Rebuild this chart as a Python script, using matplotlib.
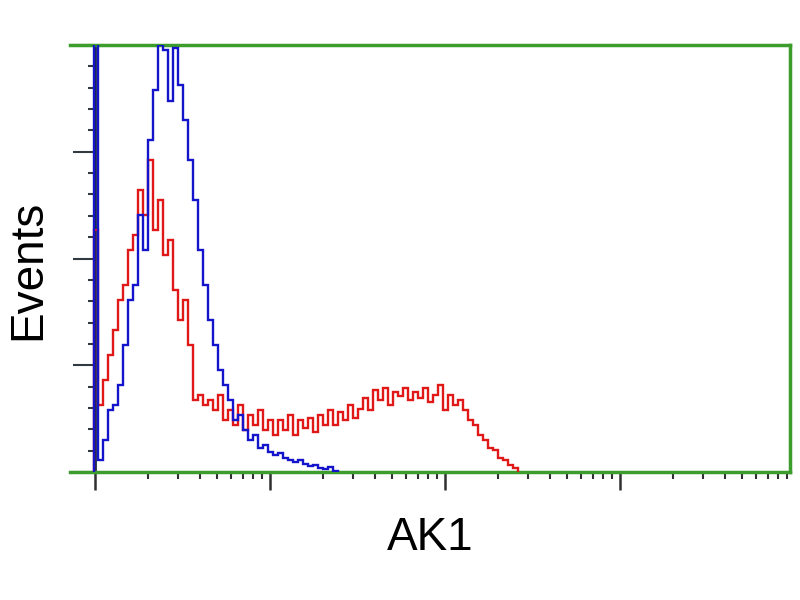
import numpy as np
import matplotlib
matplotlib.use("Agg")
import matplotlib.pyplot as plt
from matplotlib.ticker import MultipleLocator, FixedLocator, NullFormatter

# histogram counts (percent of max), bins of equal log width
blue_counts = [110, 2.8, 7.5, 14.5, 15.7, 20.4, 29.7, 40.3, 43.8, 60.2, 52, 77.8, 89.5,
               100, 98.8, 87, 99.3, 90.6, 82.4, 73, 63.7, 52, 43.8, 35.6, 29.7, 23.9,
               20.4, 16.9, 12.2, 13.3, 9.8, 7.5, 8.7, 5.6, 6.3, 4.7, 4.0, 4.4, 3.3,
               2.8, 2.3, 2.8, 1.9, 1.4, 1.6, 0.9, 0.7, 1.2, 0.2]
red_counts = [56.7, 15.7, 21.5, 27.4, 33.3, 40.3, 43.8, 52, 55.5, 66, 60.2, 73, 56.7,
              63.7, 50.8, 54.3, 42.6, 35.6, 40.3, 29.7, 16.9, 18, 15.7, 16.9, 14.5,
              18, 12.2, 14.5, 11, 15.7, 9.8, 13.3, 11, 14.5, 9.8, 12.2, 8.7, 12.2,
              9.8, 13.3, 8.7, 12.2, 10.3, 12.6, 9.4, 13.3, 11, 14.5, 11, 14.1, 12.2,
              15.7, 12.6, 14.8, 17.3, 14.5, 19.2, 16.9, 19.7, 15.7, 18.7, 17.8, 19.7,
              16.9, 18.7, 17.3, 19.7, 16.4, 18, 20.4, 14.5, 18, 15.7, 16.9, 14.5,
              12.2, 11, 8.7, 7.5, 5.6, 5.2, 3.3, 2.8, 1.6, 0.9]
bins_per_decade = 35
x_label = "AK1"
y_label = "Events"

green = "#3c9c2c"

fig = plt.figure(figsize=(8, 6), dpi=100)
ax = fig.add_axes([70/800, 128/600, 720/800, 427/600])

def edges(n):
    # first bin is the off-scale channel sitting on the axis
    e = 10 ** ((np.arange(n) + 0.6) / bins_per_decade)
    return np.concatenate([[10 ** (-1 / 175)], e])

ax.stairs(red_counts, edges(len(red_counts)), color="#e01818", lw=1.7, baseline=0, zorder=3)
ax.stairs(blue_counts, edges(len(blue_counts)), color="#1414cc", lw=1.7, baseline=0, zorder=3)

ax.set_xscale("log")
ax.set_xlim(10 ** (-25 / 175), 10 ** (695 / 175))
ax.set_ylim(0, 100)

for s in ("top", "right", "bottom"):
    ax.spines[s].set_color(green)
    ax.spines[s].set_linewidth(2.5)
ax.spines["left"].set_position(("data", 1))
ax.spines["left"].set_color("#1a2a40")
ax.spines["left"].set_linewidth(2)
ax.spines["left"].set_zorder(2)

decades = [1, 10, 100, 1000]
ax.yaxis.set_major_locator(MultipleLocator(25))
ax.yaxis.set_minor_locator(MultipleLocator(5))
ax.xaxis.set_major_locator(FixedLocator(decades))
ax.xaxis.set_minor_locator(FixedLocator([d * k for d in decades for k in range(2, 10)]))
ax.xaxis.set_major_formatter(NullFormatter())
ax.xaxis.set_minor_formatter(NullFormatter())
ax.yaxis.set_major_formatter(NullFormatter())
ax.tick_params(axis="y", which="major", length=16, width=1.5, color="#303a40", direction="out")
ax.tick_params(axis="y", which="minor", length=5, width=1.5, color="#303a40", direction="out")
ax.tick_params(axis="x", which="major", length=13, width=1.8, color="#303030", direction="out")
ax.tick_params(axis="x", which="minor", length=5, width=1.5, color="#303030", direction="out")

ax.set_xlabel(x_label, fontsize=33, family=["Liberation Sans", "DejaVu Sans"], labelpad=15)
fig.text(28/800, 1 - 270/600, y_label, rotation=90, fontsize=33,
         family=["Liberation Sans", "DejaVu Sans"], ha="center", va="center")

fig.savefig("out.png", dpi=100, facecolor="white")
